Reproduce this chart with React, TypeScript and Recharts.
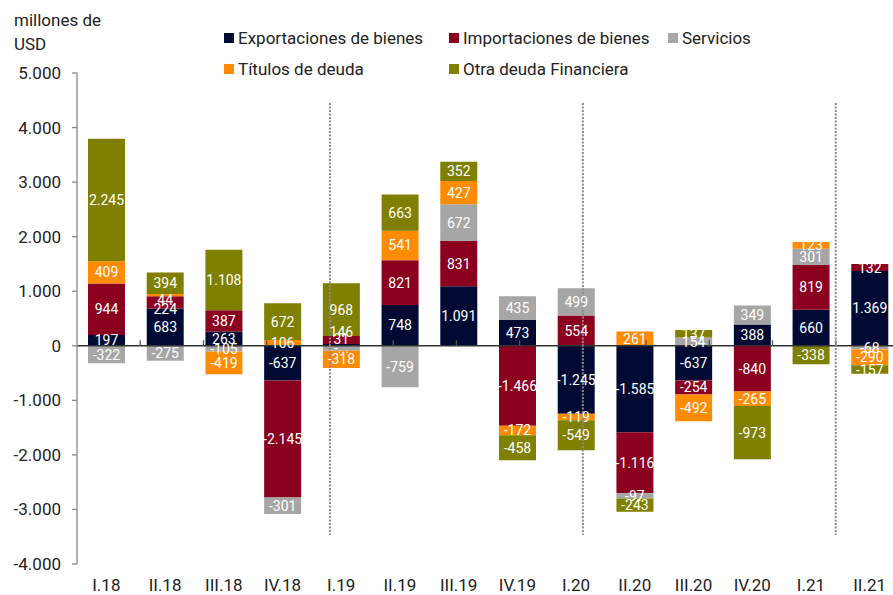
import React from 'react';
import { BarChart, Bar, XAxis, YAxis, ReferenceLine, LabelList } from 'recharts';

const trimestres = ['I.18', 'II.18', 'III.18', 'IV.18', 'I.19', 'II.19', 'III.19', 'IV.19', 'I.20', 'II.20', 'III.20', 'IV.20', 'I.21', 'II.21'];
const exportaciones = [197, 683, 263, -637, 31, 748, 1091, 473, -1245, -1585, -637, 388, 660, 1369];
const importaciones = [944, 224, 387, -2145, 146, 821, 831, -1466, 554, -1116, -254, -840, 819, 132];
const servicios = [-322, -275, -105, -301, -90, -759, 672, 435, 499, -97, 154, 349, 301, -68];
const titulos = [409, 44, -419, 106, -318, 541, 427, -172, -119, 261, -492, -265, 123, -290];
const otraDeuda = [2245, 394, 1108, 672, 968, 663, 352, -458, -549, -243, 137, -973, -338, -157];
// label shown truncated in the original (I.19, Servicios)
const etiquetasEspeciales = [{ serie: 'ser', idx: 4, texto: '-...' }];
// small label nudges as in the original (overlapping labels on thin segments)
const desplazamientos = [
  { serie: 'imp', idx: 1, dy: 7 },
  { serie: 'tit', idx: 1, dy: 5 },
  { serie: 'imp', idx: 4, dy: -8 },
  { serie: 'exp', idx: 4, dy: -6 },
];
const yTicks = [-4000, -3000, -2000, -1000, 0, 1000, 2000, 3000, 4000, 5000];
const separadores = [4, 8, 12];
const limites = [1, 2, 3, 4, 5, 6, 7, 8, 9, 10, 11, 12, 13];

const COLORS = {
  exp: '#000a33',
  imp: '#8b001f',
  ser: '#a6a6a6',
  tit: '#ff8b00',
  otra: '#7f7f00',
};

const series = [
  { key: 'exp', name: 'Exportaciones de bienes', values: exportaciones },
  { key: 'imp', name: 'Importaciones de bienes', values: importaciones },
  { key: 'ser', name: 'Servicios', values: servicios },
  { key: 'tit', name: 'Títulos de deuda', values: titulos },
  { key: 'otra', name: 'Otra deuda Financiera', values: otraDeuda },
];

const fmt = (v: number) => {
  const s = Math.abs(Math.round(v)).toString().replace(/\B(?=(\d{3})+(?!\d))/g, '.');
  return (v < 0 ? '-' : '') + s;
};

const data = trimestres.map((q, i) => {
  const row: any = { q };
  series.forEach((s) => {
    row[s.key] = s.values[i];
    const ov = etiquetasEspeciales.find((e) => e.serie === s.key && e.idx === i);
    const d = desplazamientos.find((e) => e.serie === s.key && e.idx === i);
    row[s.key + 'Lbl'] = (ov ? ov.texto : fmt(s.values[i])) + '|' + (d ? d.dy : 0);
  });
  return row;
});

const FONT = 'Roboto, sans-serif';

const SegLabel = (props: any) => {
  const { x, y, width, height, value } = props;
  if (value === undefined || value === null) return null;
  const [text, dyStr] = String(value).split('|');
  const dy = Number(dyStr) || 0;
  return (
    <text
      x={x + width / 2}
      y={y + height / 2 + dy}
      dy="0.36em"
      textAnchor="middle"
      fill="#ffffff"
      fontSize={14}
      fontFamily={FONT}
    >
      {text}
    </text>
  );
};

const XTick = (props: any) => {
  const { x, y, payload } = props;
  return (
    <text x={x} y={y + 27} textAnchor="middle" fill="#222" fontSize={17} fontFamily={FONT}>
      {payload.value}
    </text>
  );
};

const legendRows = [
  [series[0], series[1], series[2]],
  [series[3], series[4]],
];
const legendCols = [224, 449, 668];

export default function App() {
  return (
    <div
      style={{
        position: 'fixed',
        left: 0,
        top: 0,
        width: 893,
        height: 595,
        overflow: 'hidden',
        background: '#fff',
        fontFamily: FONT,
      }}
    >
      <BarChart
        width={899}
        height={595}
        data={data}
        stackOffset="sign"
        margin={{ top: 73, right: 0, bottom: 0, left: 0 }}
        barSize={37}
      >
        <XAxis
          dataKey="q"
          height={31}
          axisLine={false}
          tickLine={false}
          tickSize={0}
          tickMargin={0}
          interval={0}
          tick={<XTick />}
        />
        <XAxis xAxisId="n" type="number" domain={[0, 14]} allowDataOverflow hide />
        <YAxis
          width={77}
          domain={[-4000, 5000]}
          ticks={yTicks}
          interval={0}
          tickFormatter={fmt}
          tickSize={5}
          tickMargin={11}
          axisLine={{ stroke: '#888', strokeWidth: 1.3 }}
          tickLine={{ stroke: '#888', strokeWidth: 1.3 }}
          tick={{ fontSize: 17, fill: '#222', fontFamily: FONT }}
          allowDataOverflow
        />
        {series.map((s) => (
          <Bar
            key={s.key}
            dataKey={s.key}
            name={s.name}
            stackId="a"
            fill={COLORS[s.key as keyof typeof COLORS]}
            isAnimationActive={false}
          >
            <LabelList dataKey={s.key + 'Lbl'} content={<SegLabel />} />
          </Bar>
        ))}
        <ReferenceLine y={0} stroke="#333" strokeWidth={1.5} />
        {limites.map((b) => (
          <ReferenceLine
            key={'t' + b}
            xAxisId="n"
            segment={[{ x: b, y: 0 }, { x: b, y: 100 }]}
            stroke="#555"
            strokeWidth={1.3}
          />
        ))}
        {separadores.map((b) => (
          <ReferenceLine
            key={'s' + b}
            xAxisId="n"
            segment={[{ x: b, y: 4450 }, { x: b, y: -3470 }]}
            stroke="#8a8a8a"
            strokeWidth={2}
            strokeDasharray="2 1.5"
          />
        ))}
      </BarChart>

      <div style={{ position: 'absolute', left: 14, top: 8, fontSize: 17, color: '#222', lineHeight: '24px' }}>
        millones de
        <br />
        USD
      </div>

      {legendRows.map((row, r) =>
        row.map((s, c) => (
          <div
            key={s.key}
            style={{
              position: 'absolute',
              left: legendCols[c],
              top: 27 + r * 31,
              height: 22,
              display: 'flex',
              alignItems: 'center',
              fontSize: 17,
              color: '#222',
              whiteSpace: 'nowrap',
            }}
          >
            <span
              style={{
                display: 'inline-block',
                width: 10,
                height: 10,
                background: COLORS[s.key as keyof typeof COLORS],
                marginRight: 4,
              }}
            />
            {s.name}
          </div>
        ))
      )}
    </div>
  );
}
